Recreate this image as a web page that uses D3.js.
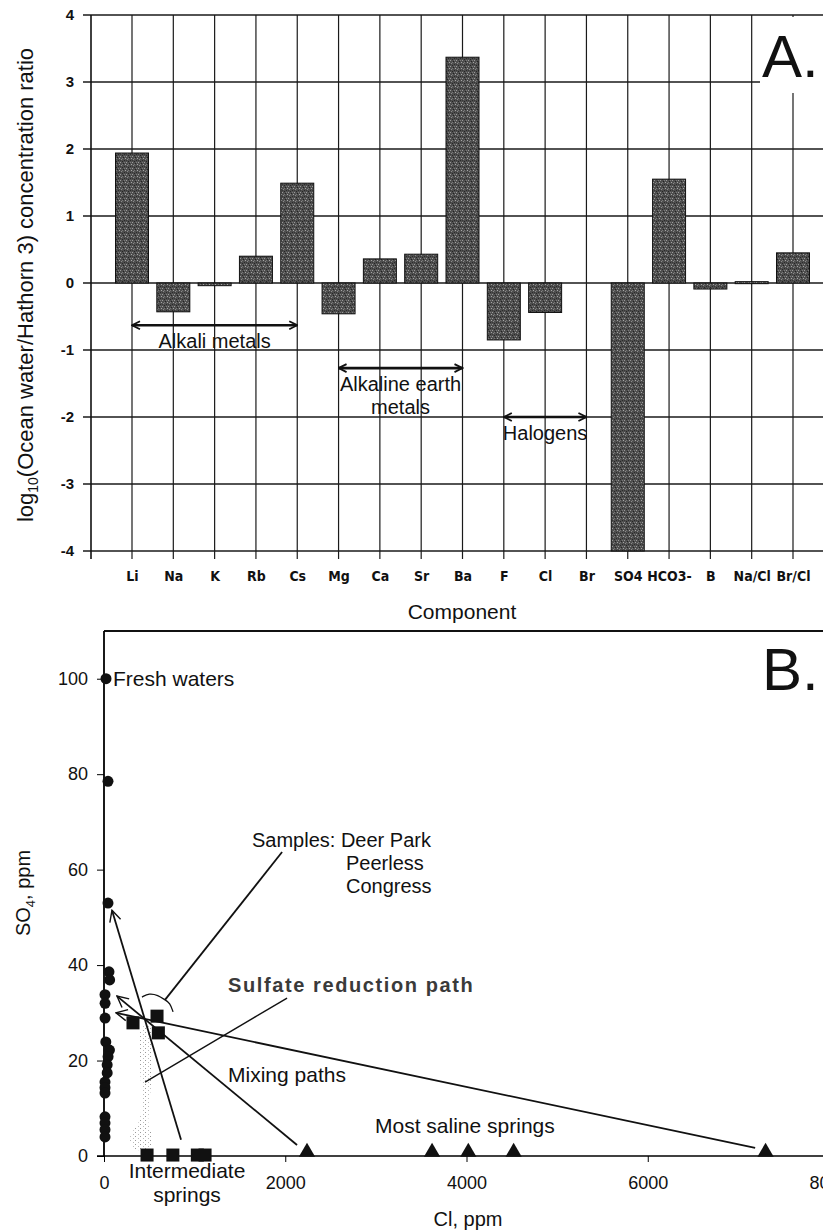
<!DOCTYPE html>
<html><head><meta charset="utf-8">
<script src="https://cdn.jsdelivr.net/npm/d3@7"></script>
<style>
html,body{margin:0;padding:0;background:#fff;}
svg{display:block;}
text{font-family:"Liberation Sans",Arial,sans-serif;fill:#111;}
.narrow{font-family:"Liberation Sans Narrow","Arial Narrow","DejaVu Sans Condensed",sans-serif;font-weight:bold;}
</style></head>
<body>
<svg id="c" width="823" height="1232"></svg>
<script>
// ---------- Panel A data ----------
const categories = ["Li","Na","K","Rb","Cs","Mg","Ca","Sr","Ba","F","Cl","Br","SO4","HCO3-","B","Na/Cl","Br/Cl"];
const logRatio   = [1.94,-0.43,-0.04,0.40,1.49,-0.46,0.36,0.43,3.37,-0.85,-0.44,null,-4.0,1.55,-0.09,0.02,0.45];
const yTicksA    = [4,3,2,1,0,-1,-2,-3,-4];
const groups = [
  {name:["Alkali metals"], from:"Li", to:"Cs", y:-0.63},
  {name:["Alkaline earth","metals"], from:"Mg", to:"Ba", y:-1.27},
  {name:["Halogens"], from:"F", to:"Br", y:-2.0}
];

// ---------- Panel B data ----------
const freshCl  = [22,44,44,55,62,11,12,12,20,60,45,35,35,11,11,11,11,11,11,11];
const freshSO4 = [100,78.5,53,38.6,36.9,33.8,32,28.9,23.9,22.2,20.8,19.1,17.4,15.5,14.3,13.2,8.2,6.9,5.5,4.0];
const interCl  = [320,585,600,475,760,1030,1115];
const interSO4 = [27.9,29.3,25.8,0.2,0.2,0.2,0.2];
const salineCl  = [2240,3620,4020,4520,7300];
const salineSO4 = [0.4,0.4,0.4,0.4,0.4];
const xTicksB = [0,2000,4000,6000,8000];
const yTicksB = [0,20,40,60,80,100];
// mixing-path arrows: [tailCl, tailSO4, headCl, headSO4]
const mixArrows = [[850,3.4,88,51.5],[2130,2.3,143,33.5],[7185,1.7,132,30.0]];
// leader lines
const samplesLeader = [[1965,63.7],[673,32.7]];
const sulfateLeader = [[2020,33.1],[453,15.5]];
const braceCl  = [419,497,596,673,728,762];
const braceSO4 = [33.3,34.1,33.7,32.7,32.1,30.2];
const stippleCl  = [420,510,500,490,540,500,330,290,400];
const stippleSO4 = [27,27,10,7,3,1.5,1.5,4,8];

const svg = d3.select("#c");
const defs = svg.append("defs");

// texture pattern for bars
const pat = defs.append("pattern").attr("id","tex").attr("width",6).attr("height",6).attr("patternUnits","userSpaceOnUse");
pat.append("rect").attr("width",6).attr("height",6).attr("fill","#4e4e4e");
[[0,0,"#9a9a9a"],[3,1,"#222"],[1,3,"#8a8a8a"],[4,4,"#2a2a2a"],[5,2,"#a5a5a5"],[2,5,"#262626"],[4,0,"#7a7a7a"],[0,4,"#383838"],[2,2,"#777"]].forEach(p=>{
  pat.append("rect").attr("x",p[0]).attr("y",p[1]).attr("width",1).attr("height",1).attr("fill",p[2]);
});
const pat2 = defs.append("pattern").attr("id","stip").attr("width",5).attr("height",4).attr("patternUnits","userSpaceOnUse");
pat2.append("rect").attr("x",0).attr("y",0).attr("width",1).attr("height",1).attr("fill","#999");
pat2.append("rect").attr("x",3).attr("y",2).attr("width",1).attr("height",1).attr("fill","#bbb");

// arrow markers
defs.append("marker").attr("id","ah").attr("viewBox","0 0 10 10").attr("refX",9).attr("refY",5)
    .attr("markerWidth",10).attr("markerHeight",10).attr("markerUnits","userSpaceOnUse").attr("orient","auto-start-reverse")
    .append("path").attr("d","M1,1 L9,5 L1,9").attr("fill","none").attr("stroke","#111").attr("stroke-width",1.8);
defs.append("marker").attr("id","ahB").attr("viewBox","0 0 10 10").attr("refX",9).attr("refY",5)
    .attr("markerWidth",14).attr("markerHeight",14).attr("markerUnits","userSpaceOnUse").attr("orient","auto")
    .append("path").attr("d","M1,1 L9,5 L1,9").attr("fill","none").attr("stroke","#111").attr("stroke-width",1.0);

// ================= PANEL A =================
const A = {left:91, top:15, bottom:551, right:834};
const xA = d3.scalePoint().domain(categories).range([132, 793]);
const yA = d3.scaleLinear().domain([-4,4]).range([A.bottom, A.top]);
const bw = 33;
const gA = svg.append("g");

gA.selectAll(".hg").data(yTicksA).join("line")
  .attr("x1",A.left-8).attr("x2",A.right).attr("y1",d=>yA(d)).attr("y2",d=>yA(d))
  .attr("stroke","#1a1a1a").attr("stroke-width",1.4);
gA.selectAll(".vg").data(categories).join("line")
  .attr("x1",d=>xA(d)).attr("x2",d=>xA(d)).attr("y1",A.top).attr("y2",A.bottom+8)
  .attr("stroke","#1a1a1a").attr("stroke-width",1.2);
gA.append("line").attr("x1",A.left).attr("x2",A.left).attr("y1",A.top).attr("y2",A.bottom+8).attr("stroke","#111").attr("stroke-width",1.6);

gA.append("rect").attr("x",760).attr("y",A.top+2).attr("width",70).attr("height",76).attr("fill","#fff");

gA.selectAll(".bar").data(categories.map((c,i)=>({c,v:logRatio[i]})).filter(d=>d.v!==null)).join("rect")
  .attr("x",d=>xA(d.c)-bw/2).attr("width",bw)
  .attr("y",d=>yA(Math.max(0,d.v))).attr("height",d=>Math.max(2,Math.abs(yA(d.v)-yA(0))))
  .attr("fill","url(#tex)").attr("stroke","#111").attr("stroke-width",1);

const axA = d3.axisLeft(yA).tickValues(yTicksA).tickSize(0).tickPadding(17).tickFormat(d=>String(d));
const yAx = gA.append("g").attr("transform",`translate(${A.left},0)`).call(axA);
yAx.select(".domain").remove();
yAx.selectAll("text").attr("font-size",15).attr("font-weight","bold").style("font-family","'Liberation Sans',Arial,sans-serif");

const axXA = d3.axisBottom(xA).tickSize(0).tickPadding(20);
const xAx = gA.append("g").attr("transform",`translate(0,${A.bottom})`).call(axXA);
xAx.select(".domain").remove();
xAx.selectAll("text").attr("class","narrow").attr("font-size",14);

const yt = svg.append("text").attr("transform",`translate(33,${(A.top+A.bottom)/2+2}) rotate(-90)`).attr("text-anchor","middle").attr("font-size",22);
yt.append("tspan").text("log");
yt.append("tspan").attr("font-size",14).attr("dy",5).text("10");
yt.append("tspan").attr("dy",-5).text("(Ocean water/Hathorn 3) concentration ratio");
svg.append("text").attr("x",462).attr("y",619).attr("text-anchor","middle").attr("font-size",21).text("Component");
svg.append("text").attr("x",762).attr("y",77).attr("font-size",60).text("A.");

groups.forEach(g=>{
  gA.append("line").attr("x1",xA(g.from)).attr("x2",xA(g.to)).attr("y1",yA(g.y)).attr("y2",yA(g.y))
    .attr("stroke","#111").attr("stroke-width",2.6).attr("marker-start","url(#ah)").attr("marker-end","url(#ah)");
  const cx = (xA(g.from)+xA(g.to))/2;
  g.name.forEach((t,i)=>{
    gA.append("text").attr("x",cx).attr("y",yA(g.y)+23+i*23).attr("text-anchor","middle").attr("font-size",20).text(t);
  });
});

// ================= PANEL B =================
const B = {left:104, top:629, bottom:1156, right:823};
const xB = d3.scaleLinear().domain([0,8000]).range([104,829]);
const yB = d3.scaleLinear().domain([0,110]).range([1156,631]);
const gB = svg.append("g");
gB.append("line").attr("x1",B.left).attr("x2",B.right).attr("y1",yB(110)).attr("y2",yB(110)).attr("stroke","#111").attr("stroke-width",2);

const axYB = d3.axisLeft(yB).tickValues(yTicksB).tickSize(7).tickPadding(9).tickFormat(d3.format("d"));
const yBx = gB.append("g").attr("transform",`translate(${B.left},0)`).call(axYB);
yBx.select(".domain").attr("d",`M0,${yB(110)}V${yB(0)}`).attr("stroke-width",1.8);
yBx.selectAll("text").attr("font-size",18);
const axXB = d3.axisBottom(xB).tickValues(xTicksB).tickSize(6).tickPadding(14).tickFormat(d3.format("d"));
const xBx = gB.append("g").attr("transform",`translate(0,${B.bottom})`).call(axXB);
xBx.select(".domain").attr("d",`M${B.left-7},0H${B.right}`).attr("stroke-width",1.6);
xBx.selectAll("text").attr("font-size",18);

gB.append("path").datum(stippleCl.map((c,i)=>[c,stippleSO4[i]]))
  .attr("d",d3.line().x(d=>xB(d[0])).y(d=>yB(d[1])).curve(d3.curveCatmullRomClosed))
  .attr("fill","url(#stip)");

const ln = d3.line().x(d=>xB(d[0])).y(d=>yB(d[1]));
mixArrows.forEach(a=>{
  gB.append("path").attr("d",ln([[a[0],a[1]],[a[2],a[3]]])).attr("stroke","#111").attr("stroke-width",1.8).attr("fill","none").attr("marker-end","url(#ahB)");
});
gB.append("path").attr("d",ln(samplesLeader)).attr("stroke","#111").attr("stroke-width",1.8).attr("fill","none");
gB.append("path").attr("d",ln(sulfateLeader)).attr("stroke","#111").attr("stroke-width",1.4).attr("fill","none");
gB.append("path").attr("d",d3.line().x(d=>xB(d[0])).y(d=>yB(d[1])).curve(d3.curveBasis)(braceCl.map((c,i)=>[c,braceSO4[i]])))
  .attr("stroke","#111").attr("stroke-width",1.3).attr("fill","none");

gB.selectAll(".fc").data(freshCl.map((c,i)=>[c,freshSO4[i]])).join("circle")
  .attr("cx",d=>xB(d[0])).attr("cy",d=>yB(d[1])).attr("r",5.5).attr("fill","#111");
gB.selectAll(".sq").data(interCl.map((c,i)=>[c,interSO4[i]])).join("path")
  .attr("transform",d=>`translate(${xB(d[0])},${yB(d[1])})`)
  .attr("d",d3.symbol(d3.symbolSquare,170)).attr("fill","#111");
gB.selectAll(".tr").data(salineCl.map((c,i)=>[c,salineSO4[i]])).join("path")
  .attr("transform",d=>`translate(${xB(d[0])},${yB(d[1])-2})`)
  .attr("d",d3.symbol(d3.symbolTriangle,115)).attr("fill","#111");

const t = (x,y,s,size,anchor)=>svg.append("text").attr("x",x).attr("y",y).attr("font-size",size||20).attr("text-anchor",anchor||"start").text(s);
t(113,686,"Fresh waters",21);
t(252,847,"Samples: Deer Park",20);
t(346,870,"Peerless",20);
t(346,893,"Congress",20);
svg.append("text").attr("x",228).attr("y",992).attr("font-size",20).attr("letter-spacing",1.6).attr("font-weight","bold").style("fill","#3a3a3a").text("Sulfate reduction path");
t(228,1082,"Mixing paths",21);
t(375,1133,"Most saline springs",21);
t(187,1178,"Intermediate",21,"middle");
t(187,1202,"springs",21,"middle");
t(762,690,"B.",60);
t(468,1226,"Cl, ppm",20,"middle");
const st = svg.append("text").attr("transform","translate(30,893) rotate(-90)").attr("text-anchor","middle").attr("font-size",20);
st.append("tspan").text("SO");
st.append("tspan").attr("font-size",13).attr("dy",5).text("4");
st.append("tspan").attr("dy",-5).text(", ppm");
</script>
</body></html>
